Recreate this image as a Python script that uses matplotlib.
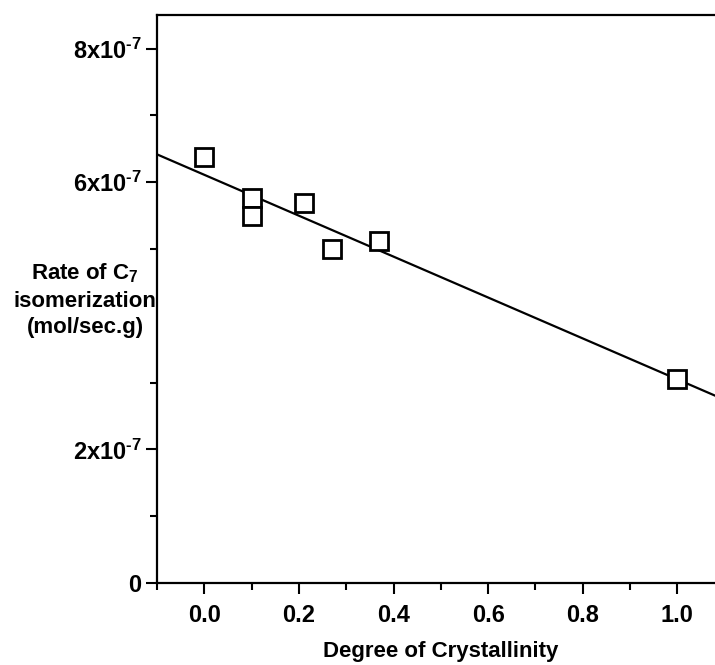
import numpy as np
import matplotlib
matplotlib.use("Agg")
import matplotlib.pyplot as plt
from matplotlib.ticker import FixedLocator

matplotlib.rcParams['font.family'] = 'Liberation Sans'
matplotlib.rcParams['font.weight'] = 'bold'
matplotlib.rcParams['mathtext.fontset'] = 'custom'
matplotlib.rcParams['mathtext.rm'] = 'Liberation Sans:bold'
matplotlib.rcParams['mathtext.bf'] = 'Liberation Sans:bold'
matplotlib.rcParams['mathtext.default'] = 'bf'

# degree of crystallinity vs. C7 isomerization rate
crystallinity = [0.0, 0.1, 0.1, 0.21, 0.27, 0.37, 1.0]
rate = [6.37e-7, 5.76e-7, 5.49e-7, 5.69e-7, 5.00e-7, 5.12e-7, 3.06e-7]

# the 4x10^-7 tick sits under the axis title, so it is left out
ytick_vals = [0, 2e-7, 6e-7, 8e-7]
ytick_labels = ['0', r'2x10$^{\text{-7}}$', r'6x10$^{\text{-7}}$', r'8x10$^{\text{-7}}$']
ytick_minor = [1e-7, 3e-7, 5e-7, 7e-7]

xtick_vals = [0.0, 0.2, 0.4, 0.6, 0.8, 1.0]
xtick_labels = ['0.0', '0.2', '0.4', '0.6', '0.8', '1.0']
xtick_minor = [-0.1, 0.1, 0.3, 0.5, 0.7, 0.9]

# linear fit through the points
slope, intercept = np.polyfit(crystallinity, rate, 1)

fig = plt.figure(figsize=(7.15, 6.65), dpi=100)
ax = fig.add_axes([0.2196, 0.1233, 0.794, 0.854])

xfit = np.array([-0.1, 1.1])
ax.plot(xfit, slope * xfit + intercept, color='black', linewidth=1.6, zorder=2)
ax.plot(crystallinity, rate, linestyle='none', marker='s', markersize=13.5,
        markerfacecolor='white', markeredgecolor='black', markeredgewidth=2.0, zorder=3)

ax.set_xlim(-0.1, 1.1)
ax.set_ylim(0, 8.5e-7)

ax.set_xticks(xtick_vals)
ax.set_xticklabels(xtick_labels)
ax.xaxis.set_minor_locator(FixedLocator(xtick_minor))
ax.set_yticks(ytick_vals)
ax.set_yticklabels(ytick_labels)
ax.yaxis.set_minor_locator(FixedLocator(ytick_minor))

ax.tick_params(which='major', direction='out', length=8, width=1.5, labelsize=17, pad=7)
ax.tick_params(which='minor', direction='out', length=5, width=1.5)
ax.tick_params(axis='y', which='major', pad=3)

for side in ['left', 'bottom', 'top', 'right']:
    ax.spines[side].set_linewidth(1.6)

ax.set_xlabel('Degree of Crystallinity', fontsize=16, fontweight='bold', labelpad=10)

fig.text(85 / 715, 1 - 300 / 665, 'Rate of C$_7$\nisomerization\n(mol/sec.g)',
         ha='center', va='center', multialignment='center', fontsize=16,
         fontweight='bold', linespacing=1.35)

fig.savefig('out.png', dpi=100, facecolor='white')
